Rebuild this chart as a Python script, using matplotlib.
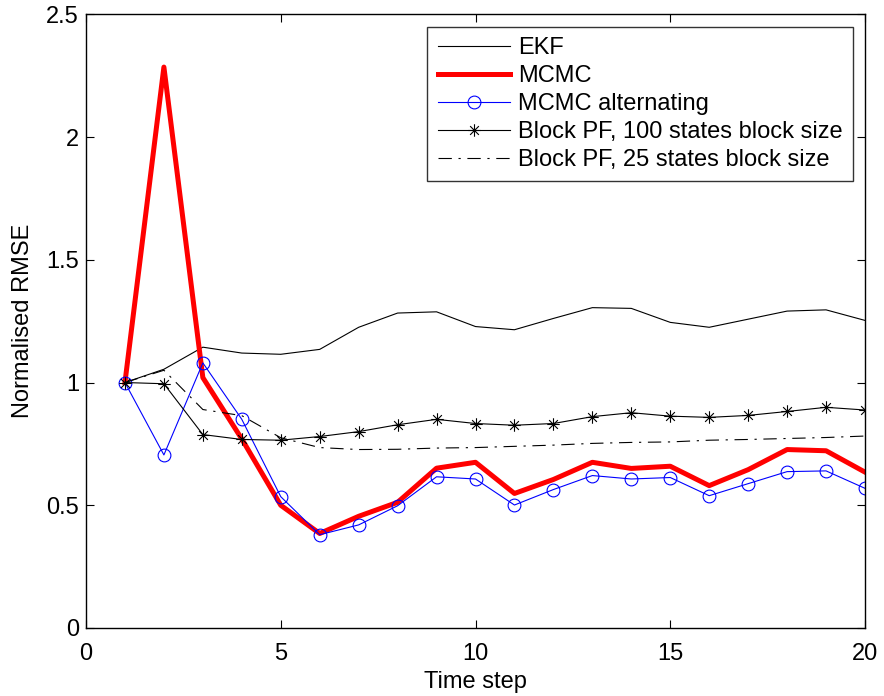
import matplotlib
matplotlib.use("Agg")
import matplotlib.pyplot as plt
from matplotlib.path import Path
import numpy as np

plt.rcParams['font.family'] = ['Liberation Sans', 'DejaVu Sans']

t = list(range(1, 21))
ekf = [1.0, 1.054, 1.144, 1.12, 1.115, 1.135, 1.225, 1.283, 1.288, 1.228,
       1.215, 1.261, 1.305, 1.302, 1.245, 1.225, 1.258, 1.291, 1.296, 1.253]
mcmc = [1.0, 2.285, 1.02, 0.77, 0.50, 0.385, 0.455, 0.512, 0.651, 0.675,
        0.548, 0.605, 0.675, 0.650, 0.659, 0.580, 0.645, 0.727, 0.722, 0.635]
mcmc_alt = [1.0, 0.705, 1.08, 0.85, 0.535, 0.38, 0.42, 0.498, 0.616, 0.607,
            0.501, 0.564, 0.621, 0.607, 0.613, 0.539, 0.588, 0.637, 0.640, 0.569]
bpf100 = [1.0, 0.995, 0.788, 0.768, 0.765, 0.78, 0.80, 0.828, 0.850, 0.833,
          0.826, 0.833, 0.861, 0.877, 0.863, 0.858, 0.866, 0.882, 0.899, 0.888]
bpf25 = [1.0, 1.05, 0.89, 0.865, 0.775, 0.735, 0.727, 0.728, 0.733, 0.735,
         0.74, 0.745, 0.752, 0.756, 0.758, 0.765, 0.768, 0.772, 0.776, 0.782]

labels = ['EKF', 'MCMC', 'MCMC alternating',
          'Block PF, 100 states block size', 'Block PF, 25 states block size']

# asterisk marker (MATLAB style)
d = 0.7
verts = [(0, -1), (0, 1), (-1, 0), (1, 0), (-d, -d), (d, d), (-d, d), (d, -d)]
codes = [Path.MOVETO, Path.LINETO] * 4
ast = Path(verts, codes)

FS = 17

fig = plt.figure(figsize=(8.84, 6.96), dpi=100)
ax = fig.add_axes([86 / 884, 68 / 696, 779 / 884, 613.7 / 696])

ax.plot(t, ekf, color='black', lw=0.8, label=labels[0])
ax.plot(t, mcmc, color='red', lw=3.6, label=labels[1])
ax.plot(t, mcmc_alt, color='blue', lw=0.8, marker='o', ms=9.2,
        mfc='none', mec='blue', mew=0.8, label=labels[2])
ax.plot(t, bpf100, color='black', lw=0.8, marker=ast, ms=9,
        mfc='none', mec='black', mew=0.8, label=labels[3])
ax.plot(t, bpf25, color='black', lw=0.8, linestyle=(0, (12, 6, 2, 6)),
        label=labels[4])

ax.set_xlim(0, 20)
ax.set_ylim(0, 2.5)
ax.set_xticks([0, 5, 10, 15, 20])
ax.set_yticks([0, 0.5, 1, 1.5, 2, 2.5])
ax.set_yticklabels(['0', '0.5', '1', '1.5', '2', '2.5'])
ax.tick_params(direction='in', top=True, right=True, length=6, width=0.8,
               labelsize=FS)
ax.tick_params(axis='y', pad=5)
ax.tick_params(axis='x', pad=11)
for s in ax.spines.values():
    s.set_linewidth(1.0)

ax.set_xlabel('Time step', fontsize=FS, labelpad=4)
ax.set_ylabel('Normalised RMSE', fontsize=FS, labelpad=9)

leg = ax.legend(loc='upper right', bbox_to_anchor=(0.985, 0.98),
                fontsize=FS, frameon=True, fancybox=False, edgecolor='black',
                handlelength=3.05, handletextpad=0.34, borderpad=0.45,
                labelspacing=0.25, borderaxespad=0.0)
leg.get_frame().set_linewidth(1.0)

fig.savefig('out.png', dpi=100)
